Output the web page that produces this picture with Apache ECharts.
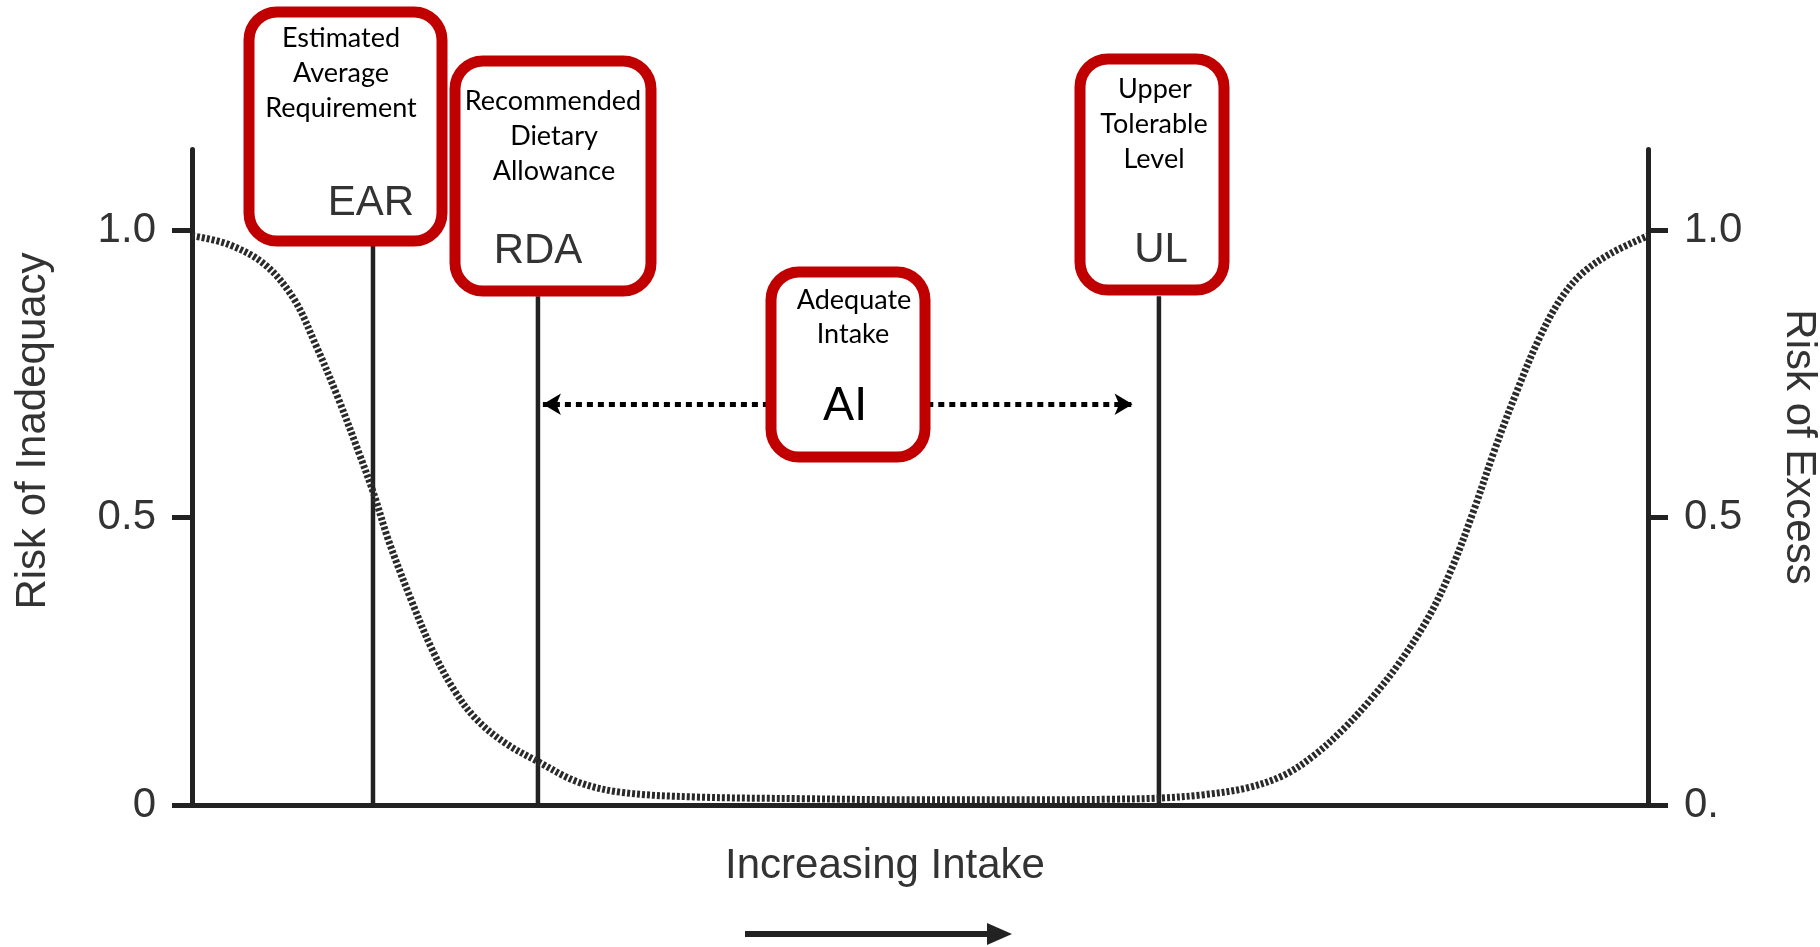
<!DOCTYPE html>
<html>
<head>
<meta charset="utf-8">
<script src="https://cdn.jsdelivr.net/npm/echarts@6/dist/echarts.min.js"></script>
<style>
html,body{margin:0;padding:0;background:#fff;}
#chart{width:1820px;height:947px;}
</style>
</head>
<body>
<div id="chart"></div>
<script>
// ---- data ----
const intakeX = [0, 2.5, 5, 7, 8.5, 10, 11.5, 12.5, 13.5, 15, 16.5, 18, 19.5, 21.5, 23.8, 26.5, 29.5, 34.5, 42, 50, 58, 63, 66.4, 69.5, 72.5, 75, 77, 79, 81, 83, 85, 86.5, 88, 89.5, 91, 92.5, 94, 95.5, 97.5, 100];
const riskValues = [0.99, 0.975, 0.94, 0.88, 0.80, 0.71, 0.61, 0.54, 0.46, 0.36, 0.27, 0.20, 0.15, 0.108, 0.075, 0.04, 0.022, 0.014, 0.011, 0.009, 0.009, 0.01, 0.012, 0.018, 0.03, 0.052, 0.085, 0.13, 0.185, 0.25, 0.33, 0.41, 0.51, 0.62, 0.72, 0.81, 0.88, 0.925, 0.96, 0.99];
const markerNames = ['EAR', 'RDA', 'UL'];
const markerX = [12.43, 23.76, 66.41];
const markerTop = [0.98, 0.885, 0.885];
const aiArrowY = 0.697;
const aiLeftArrow = [24.1, 40];
const aiRightArrow = [50.5, 64.6];
const tickValues = [0, 0.5, 1];
const leftTickLabels = ['0', '0.5', '1.0'];
const rightTickLabels = ['0.', '0.5', '1.0'];

const HELV = '"Liberation Sans", Arial, Helvetica, sans-serif';
const CAL = 'Lato, "Open Sans", sans-serif';

const chart = echarts.init(document.getElementById('chart'));

const curveData = intakeX.map((x, i) => [x, riskValues[i]]);
const markerSeries = markerNames.map((n, i) => ({
  name: n,
  type: 'line',
  data: [[markerX[i], 0], [markerX[i], markerTop[i]]],
  symbol: 'none',
  lineStyle: { color: '#222', width: 4.5 },
  silent: true,
  z: 3
}));

function boxRect(x, y, w, h) {
  return {
    type: 'rect', z: 100,
    shape: { x: x, y: y, width: w, height: h, r: 28 },
    style: { fill: '#fff', stroke: '#c00000', lineWidth: 11 }
  };
}
function txt(s, x, y, size, font, color, rot) {
  return {
    type: 'text', z: 101, x: x, y: y, rotation: rot || 0,
    style: { text: s, x: 0, y: 0, font: size + 'px ' + font, fill: color, align: 'center', verticalAlign: 'middle' }
  };
}

const option = {
  backgroundColor: '#fff',
  animation: false,
  grid: { left: 192, right: 172, top: 149.5, bottom: 142, containLabel: false },
  xAxis: {
    type: 'value', min: 0, max: 100,
    axisLine: { show: true, onZero: false, lineStyle: { color: '#222', width: 5 } },
    axisTick: { show: false }, axisLabel: { show: false }, splitLine: { show: false }
  },
  yAxis: [
    {
      type: 'value', min: 0, max: 1.14, position: 'left',
      axisLine: { show: true, lineStyle: { color: '#222', width: 5 } },
      axisTick: { show: true, length: 20, lineStyle: { color: '#222', width: 5 }, customValues: tickValues },
      axisLabel: {
        customValues: tickValues, margin: 36, fontSize: 42, color: '#333', fontFamily: HELV,
        formatter: v => leftTickLabels[tickValues.indexOf(v)]
      },
      splitLine: { show: false }
    },
    {
      type: 'value', min: 0, max: 1.14, position: 'right',
      axisLine: { show: true, lineStyle: { color: '#222', width: 5 } },
      axisTick: { show: true, length: 20, lineStyle: { color: '#222', width: 5 }, customValues: tickValues },
      axisLabel: {
        customValues: tickValues, margin: 36, fontSize: 42, color: '#333', fontFamily: HELV,
        formatter: v => rightTickLabels[tickValues.indexOf(v)]
      },
      splitLine: { show: false }
    }
  ],
  series: [
    {
      name: 'Risk',
      type: 'line',
      data: curveData,
      smooth: 0.35,
      symbol: 'none',
      lineStyle: { color: '#2a2a2a', width: 7, type: [3, 2] },
      silent: true,
      z: 4,
      markLine: {
        silent: true,
        animation: false,
        label: { show: false },
        symbolSize: [16, 18],
        lineStyle: { color: '#000', width: 5, type: [6, 5] },
        data: [
          [{ coord: [aiLeftArrow[0], aiArrowY], symbol: 'arrow' }, { coord: [aiLeftArrow[1], aiArrowY], symbol: 'none' }],
          [{ coord: [aiRightArrow[0], aiArrowY], symbol: 'none' }, { coord: [aiRightArrow[1], aiArrowY], symbol: 'arrow' }]
        ]
      }
    }
  ].concat(markerSeries),
  graphic: [
    boxRect(249, 12, 193, 229),
    boxRect(455, 61, 196, 230),
    boxRect(771, 272, 154, 185),
    boxRect(1080, 59, 144, 231),
    txt('Estimated', 341, 38, 27, CAL, '#000'),
    txt('Average', 341, 73, 27, CAL, '#000'),
    txt('Requirement', 341, 108, 27, CAL, '#000'),
    txt('EAR', 371, 203, 42, HELV, '#333'),
    txt('Recommended', 553, 101, 27, CAL, '#000'),
    txt('Dietary', 554, 136, 27, CAL, '#000'),
    txt('Allowance', 554, 171, 27, CAL, '#000'),
    txt('RDA', 538, 251, 42, HELV, '#333'),
    txt('Adequate', 854, 300, 27, CAL, '#000'),
    txt('Intake', 853, 334, 27, CAL, '#000'),
    txt('AI', 845, 405, 46, CAL, '#000'),
    txt('Upper', 1155, 89, 27, CAL, '#000'),
    txt('Tolerable', 1154, 124, 27, CAL, '#000'),
    txt('Level', 1154, 159, 27, CAL, '#000'),
    txt('UL', 1161, 250, 42, HELV, '#333'),
    txt('Risk of Inadequacy', 33, 431, 42, HELV, '#333', Math.PI / 2),
    txt('Risk of Excess', 1799, 447, 42, HELV, '#333', -Math.PI / 2),
    txt('Increasing Intake', 885, 866, 42, HELV, '#333'),
    { type: 'line', z: 100, shape: { x1: 745, y1: 934, x2: 992, y2: 934 }, style: { stroke: '#222', lineWidth: 6 } },
    { type: 'polygon', z: 100, shape: { points: [[987, 923], [1012, 934], [987, 945]] }, style: { fill: '#222' } }
  ]
};
chart.setOption(option);
</script>
</body>
</html>
